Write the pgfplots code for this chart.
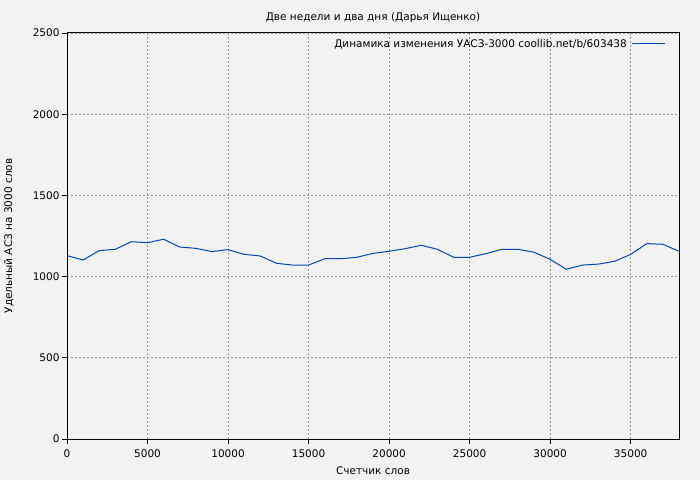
\documentclass[border=0pt]{standalone}
\usepackage{pgfplots}
\pgfplotsset{compat=1.18}
\usepackage{fontspec}
\setmainfont{DejaVu Sans}
\definecolor{bgc}{RGB}{242,242,242}
\definecolor{linec}{RGB}{0,70,180}
\definecolor{gridc}{RGB}{150,150,150}
\begin{document}
\begin{tikzpicture}[font=\fontsize{10.5bp}{12.5bp}\selectfont]
\fill[bgc] (0,0) rectangle (700bp,480bp);
\useasboundingbox (0,0) rectangle (700bp,480bp);
\begin{axis}[
  at={(67bp,41bp)}, anchor=south west,
  scale only axis, width=612bp, height=406bp,
  xmin=0, xmax=38000, ymin=0, ymax=2500,
  xtick={0,5000,...,35000}, ytick={0,500,...,2500},
  scaled ticks=false,
  /pgf/number format/1000 sep={},
  /pgf/number format/assume math mode=true,
  tick align=outside, major tick length=5bp,
  xtick pos=bottom, ytick pos=left,
  xticklabel style={yshift=-2bp},
  yticklabel style={xshift=1bp},
  axis line style={black, line width=1bp},
  tick style={black, line width=0.8bp},
  grid=major,
  major grid style={gridc, line width=0.8bp, dash pattern=on 2bp off 2bp},
  title={Две недели и два дня (Дарья Ищенко)},
  title style={at={(axis description cs:0.5,1)}, anchor=center, yshift=9bp},
  xlabel={Счетчик слов},
  xlabel style={at={(axis description cs:0.5,0)}, anchor=center, yshift=-32bp},
  ylabel={Удельный АСЗ на 3000 слов},
  ylabel style={at={(axis description cs:-0.0948,0.5)}, anchor=center},
  legend plot pos=right,
  legend cell align=right,
  legend image code/.code={\path (0bp,0bp); \draw[#1] (3bp,0bp) -- (36bp,0bp);},
  legend style={at={(axis description cs:1,1)}, anchor=north east,
    draw=none, fill=none, xshift=-10bp, yshift=-2bp},
]
\addplot[linec, line width=1bp] coordinates {
(0,1129) (1000,1102) (2000,1160) (3000,1168) (4000,1215) (5000,1209)
(6000,1230) (7000,1182) (8000,1174) (9000,1154) (10000,1166) (11000,1137)
(12000,1127) (13000,1082) (14000,1071) (15000,1071) (16000,1110) (17000,1110)
(18000,1119) (19000,1143) (20000,1156) (21000,1172) (22000,1193) (23000,1168)
(24000,1119) (25000,1119) (26000,1141) (27000,1168) (28000,1168) (29000,1150)
(30000,1106) (31000,1045) (32000,1071) (33000,1077) (34000,1094) (35000,1137)
(36000,1203) (37000,1199) (38000,1156)
};
\addlegendentry{Динамика изменения УАСЗ-3000 coollib.net/b/603438}
\end{axis}
\end{tikzpicture}
\end{document}
